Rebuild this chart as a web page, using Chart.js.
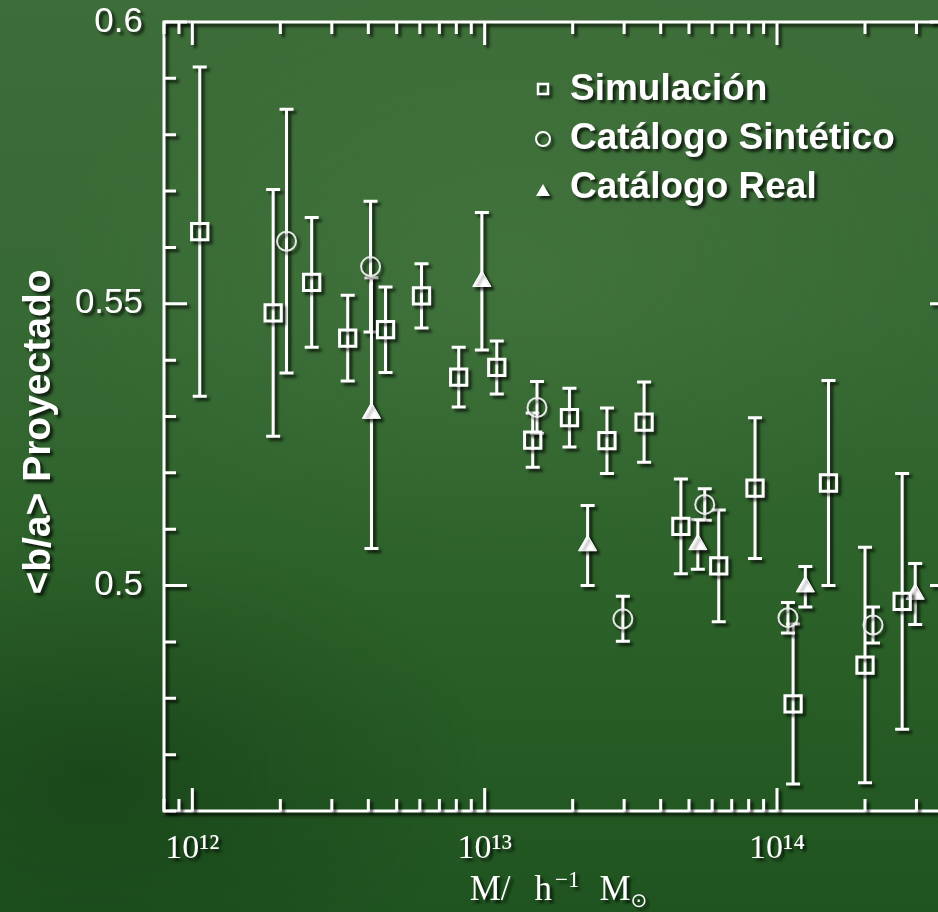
<!DOCTYPE html>
<html>
<head>
<meta charset="utf-8">
<title>Forma proyectada de grupos vs masa</title>
<script src="https://cdn.jsdelivr.net/npm/chart.js@4.4.1/dist/chart.umd.min.js"></script>
<style>
  html, body { margin: 0; padding: 0; width: 938px; height: 912px; overflow: hidden; }
  body {
    background:
      radial-gradient(ellipse 70% 45% at 55% 30%, rgba(95,145,85,0.22), rgba(0,0,0,0) 70%),
      radial-gradient(ellipse 60% 40% at 10% 85%, rgba(0,20,0,0.25), rgba(0,0,0,0) 70%),
      linear-gradient(180deg, #3d6d38 0%, #376934 35%, #2c6129 65%, #1f5420 100%);
  }
  #wrap { position: absolute; left: 0; top: 0; width: 970px; height: 912px; }
</style>
</head>
<body>
<div id="wrap"><canvas id="c" width="970" height="912"></canvas></div>
<script>
// Halo mass of each bin (h^-1 M_sun), mean projected axis ratio <b/a> and its error
const simMass = [1.06e12, 1.89e12, 2.56e12, 3.40e12, 4.58e12, 6.08e12, 8.15e12, 1.10e13, 1.46e13, 1.95e13,
                 2.62e13, 3.51e13, 4.69e13, 6.32e13, 8.41e13, 1.135e14, 1.50e14, 2.00e14, 2.68e14];
const simMean = [0.5628, 0.5484, 0.5538, 0.5439, 0.5454, 0.5514, 0.5370, 0.5387, 0.5258, 0.5298,
                 0.5257, 0.5290, 0.5105, 0.5035, 0.5173, 0.4790, 0.5182, 0.4859, 0.4972];
const simErr  = [0.0292, 0.0219, 0.0115, 0.0076, 0.0076, 0.0057, 0.0053, 0.0047, 0.0048, 0.0052,
                 0.0058, 0.0071, 0.0084, 0.0099, 0.0125, 0.0142, 0.0182, 0.0209, 0.0227];

const synMass = [2.10e12, 4.07e12, 1.51e13, 2.97e13, 5.66e13, 1.09e14, 2.13e14];
const synMean = [0.5611, 0.5566, 0.5316, 0.4941, 0.5144, 0.4943, 0.4930];
const synErr  = [0.0234, 0.0116, 0.0046, 0.0040, 0.0028, 0.0027, 0.0032];

const realMass = [4.10e12, 9.78e12, 2.25e13, 5.36e13, 1.25e14, 2.97e14];
const realMean = [0.5306, 0.5540, 0.5071, 0.5073, 0.4998, 0.4985];
const realErr  = [0.0240, 0.0122, 0.0071, 0.0044, 0.0036, 0.0054];

const seriesNames = ['Simulación', 'Catálogo Sintético', 'Catálogo Real'];
const xTickValues = [1e12, 1e13, 1e14];
const xTickLabels = ['10¹²', '10¹³', '10¹⁴'];
const yTickValues = [0.5, 0.55, 0.6];
const yTickLabels = ['0.5', '0.55', '0.6'];
const yTitle = '<b/a> Proyectado';

const toPoints = (m, v) => m.map((x, i) => ({ x: x, y: v[i] }));
const seriesErr = [simErr, synErr, realErr];

const WHITE = '#ffffff';

// Everything white on the board gets a soft dark drop shadow
function setShadow(ctx) {
  ctx.shadowColor = 'rgba(0,0,0,0.7)';
  ctx.shadowOffsetX = 3;
  ctx.shadowOffsetY = 3;
  ctx.shadowBlur = 3;
}

const boardPlugin = {
  id: 'board',
  beforeDraw(chart) {
    chart.ctx.save();
    setShadow(chart.ctx);
  },
  beforeDatasetsDraw(chart) {
    // vertical error bars with caps
    const ctx = chart.ctx;
    const xs = chart.scales.x, ys = chart.scales.y;
    ctx.save();
    ctx.strokeStyle = WHITE;
    ctx.lineWidth = 3;
    ctx.lineCap = 'butt';
    chart.data.datasets.forEach((ds, di) => {
      const err = seriesErr[di];
      ds.data.forEach((p, j) => {
        const x = xs.getPixelForValue(p.x);
        const yt = ys.getPixelForValue(p.y + err[j]);
        const yb = ys.getPixelForValue(p.y - err[j]);
        const cap = 7;
        ctx.beginPath();
        ctx.moveTo(x, yt); ctx.lineTo(x, yb);
        ctx.moveTo(x - cap, yt); ctx.lineTo(x + cap, yt);
        ctx.moveTo(x - cap, yb); ctx.lineTo(x + cap, yb);
        ctx.stroke();
      });
    });
    ctx.restore();
  },
  afterDraw(chart) {
    const ctx = chart.ctx;
    const a = chart.chartArea;
    const xs = chart.scales.x, ys = chart.scales.y;
    ctx.save();
    ctx.strokeStyle = WHITE;
    ctx.fillStyle = WHITE;
    ctx.lineWidth = 3;

    // frame
    ctx.beginPath();
    ctx.rect(a.left, a.top, a.right - a.left, a.bottom - a.top);
    ctx.stroke();

    // inward tick marks on all four sides
    const MAJ = 23, MIN = 12;
    ctx.beginPath();
    for (let k = 46; k <= 60; k++) {
      const v = k / 100;
      const y = ys.getPixelForValue(v);
      const len = yTickValues.some(t => Math.abs(t - v) < 1e-9) ? MAJ : MIN;
      ctx.moveTo(a.left, y); ctx.lineTo(a.left + len, y);
      ctx.moveTo(a.right, y); ctx.lineTo(a.right - len, y);
    }
    for (let e = 11; e <= 14; e++) {
      for (let m = 1; m <= 9; m++) {
        const v = m * Math.pow(10, e);
        if (v < xs.min || v > xs.max) continue;
        const x = xs.getPixelForValue(v);
        const len = m === 1 ? MAJ : MIN;
        ctx.moveTo(x, a.bottom); ctx.lineTo(x, a.bottom - len);
        ctx.moveTo(x, a.top); ctx.lineTo(x, a.top + len);
      }
    }
    ctx.stroke();

    // y axis title
    ctx.save();
    ctx.font = 'bold 39px "Liberation Sans", Arial, sans-serif';
    ctx.textAlign = 'center';
    ctx.textBaseline = 'alphabetic';
    ctx.translate(50, 432);
    ctx.rotate(-Math.PI / 2);
    ctx.fillText(yTitle, 0, 0);
    ctx.restore();

    // x axis title: M/ h^-1 M_sun
    const big = '35px "Liberation Serif", "DejaVu Serif", serif';
    const small = '23px "Liberation Serif", "DejaVu Serif", serif';
    const sun = '20px "DejaVu Sans", sans-serif';
    const parts = [
      { t: 'M/', f: big, dy: 0, gap: 24 },
      { t: 'h', f: big, dy: 0, gap: 3 },
      { t: '−1', f: small, dy: -13, gap: 20 },
      { t: 'M', f: big, dy: 0, gap: 0 },
      { t: '⊙', f: sun, dy: 7, gap: 0 }
    ];
    let total = 0;
    parts.forEach(p => { ctx.font = p.f; p.w = ctx.measureText(p.t).width; total += p.w + p.gap; });
    let cx = (a.left + a.right) / 2 - total / 2;
    const base = 900;
    ctx.textAlign = 'left';
    ctx.textBaseline = 'alphabetic';
    parts.forEach(p => {
      ctx.font = p.f;
      ctx.fillText(p.t, cx, base + p.dy);
      cx += p.w + p.gap;
    });

    // legend inside the plot, top right
    ctx.font = 'bold 37px "Liberation Sans", Arial, sans-serif';
    const lx = 543, tx = 570;
    const rows = [100, 149, 198];
    chart.data.datasets.forEach((ds, i) => {
      ctx.fillText(ds.label, tx, rows[i]);
      const my = rows[i] - 11;
      ctx.beginPath();
      if (i === 0) {
        ctx.lineWidth = 2.5;
        ctx.rect(lx - 5, my - 5, 10, 10);
        ctx.stroke();
      } else if (i === 1) {
        ctx.lineWidth = 2;
        ctx.arc(lx, my + 1, 7, 0, Math.PI * 2);
        ctx.stroke();
      } else {
        ctx.moveTo(lx, my - 3);
        ctx.lineTo(lx + 7, my + 9);
        ctx.lineTo(lx - 7, my + 9);
        ctx.closePath();
        ctx.fill();
      }
    });
    ctx.restore();
    ctx.restore();
  }
};

new Chart(document.getElementById('c'), {
  type: 'scatter',
  data: {
    datasets: [
      { label: seriesNames[0], data: toPoints(simMass, simMean), pointStyle: 'rect',
        pointRadius: 11.5, pointHoverRadius: 11.5, borderColor: WHITE,
        backgroundColor: 'rgba(0,0,0,0)', borderWidth: 3 },
      { label: seriesNames[1], data: toPoints(synMass, synMean), pointStyle: 'circle',
        pointRadius: 9.5, pointHoverRadius: 9.5, borderColor: 'rgba(238,238,238,0.95)',
        backgroundColor: 'rgba(0,0,0,0)', borderWidth: 2 },
      { label: seriesNames[2], data: toPoints(realMass, realMean), pointStyle: 'triangle',
        pointRadius: 10.5, pointHoverRadius: 10.5, borderColor: WHITE,
        backgroundColor: WHITE, borderWidth: 1 }
    ]
  },
  options: {
    responsive: false,
    animation: false,
    events: [],
    layout: { padding: { top: 22, right: 17, left: 0, bottom: 0 } },
    plugins: { legend: { display: false }, tooltip: { enabled: false } },
    scales: {
      x: {
        type: 'logarithmic', min: 8e11, max: 4e14,
        grid: { display: false, drawTicks: false }, border: { display: false },
        afterFit(s) { s.height = 101; s.paddingLeft = 0; s.paddingRight = 0; },
        afterBuildTicks(s) { s.ticks = xTickValues.map(v => ({ value: v })); },
        ticks: {
          autoSkip: false, maxRotation: 0, minRotation: 0, color: WHITE, padding: 18,
          font: { family: '"Liberation Serif", "DejaVu Serif", serif', size: 34 },
          callback: (v) => { const i = xTickValues.indexOf(v); return i < 0 ? '' : xTickLabels[i]; }
        }
      },
      y: {
        type: 'linear', min: 0.46, max: 0.6,
        grid: { display: false, drawTicks: false }, border: { display: false },
        afterFit(s) { s.width = 164; s.paddingTop = 0; s.paddingBottom = 0; },
        afterBuildTicks(s) { s.ticks = yTickValues.map(v => ({ value: v })); },
        ticks: {
          color: WHITE, padding: 21,
          font: { family: '"Liberation Sans", Arial, sans-serif', size: 35 },
          callback: (v) => {
            const i = yTickValues.findIndex(t => Math.abs(t - v) < 1e-9);
            return i < 0 ? '' : yTickLabels[i];
          }
        }
      }
    }
  },
  plugins: [boardPlugin]
});
</script>
</body>
</html>
